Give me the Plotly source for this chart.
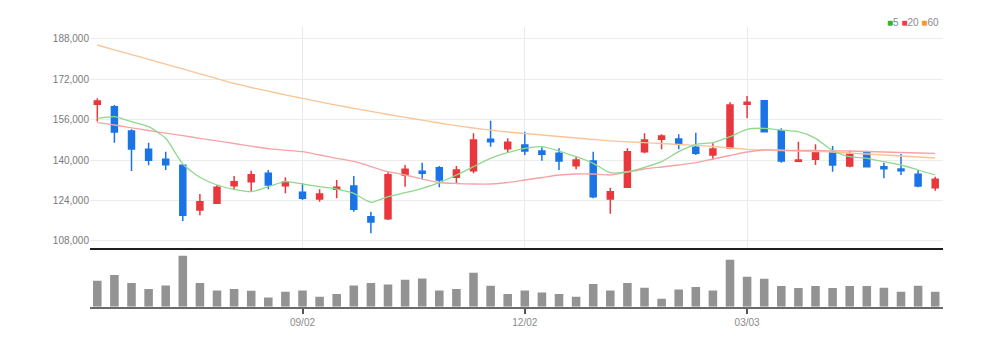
import plotly.graph_objects as go
from plotly.subplots import make_subplots

# Weekly sessions (Monday of each week)
dates = [
    "2024-06-10", "2024-06-17", "2024-06-24", "2024-07-01", "2024-07-08",
    "2024-07-15", "2024-07-22", "2024-07-29", "2024-08-05", "2024-08-12",
    "2024-08-19", "2024-08-26", "2024-09-02", "2024-09-09", "2024-09-16",
    "2024-09-23", "2024-09-30", "2024-10-07", "2024-10-14", "2024-10-21",
    "2024-10-28", "2024-11-04", "2024-11-11", "2024-11-18", "2024-11-25",
    "2024-12-02", "2024-12-09", "2024-12-16", "2024-12-23", "2024-12-30",
    "2025-01-06", "2025-01-13", "2025-01-20", "2025-01-27", "2025-02-03",
    "2025-02-10", "2025-02-17", "2025-02-24", "2025-03-03", "2025-03-10",
    "2025-03-17", "2025-03-24", "2025-03-31", "2025-04-07", "2025-04-14",
    "2025-04-21", "2025-04-28", "2025-05-05", "2025-05-12", "2025-05-19",
]

open_ = [
    162050, 161100, 151500, 144250, 140300, 137900, 120200, 122850, 129800, 131400,
    134750, 129800, 127200, 124550, 128400, 129700, 117550, 116750, 134050, 135550,
    136950, 133150, 135750, 148200, 144450, 145950, 143550, 142650, 137750, 139600,
    124550, 129200, 143300, 148200, 148300, 145050, 142000, 144650, 162050, 163500,
    151600, 139500, 140300, 143050, 137600, 143300, 137350, 136450, 134350, 129050,
]
high = [
    164500, 161800, 152150, 146850, 143300, 138150, 126550, 130100, 133650, 135750,
    136050, 133150, 130750, 128400, 132100, 133650, 119550, 135100, 138000, 138950,
    137600, 137600, 150550, 155550, 148600, 151200, 145050, 144650, 141300, 143300,
    129050, 144650, 150550, 150200, 150200, 150800, 146600, 162850, 165350, 163500,
    152550, 147250, 146200, 145550, 143700, 143700, 138950, 142400, 136050, 133400,
]
low = [
    155250, 146850, 135650, 137900, 136050, 115850, 118100, 122800, 128100, 127700,
    128400, 126800, 124150, 123500, 124850, 119550, 110950, 116250, 129450, 132350,
    129200, 130500, 134750, 145250, 142900, 142000, 139700, 136050, 136300, 124850,
    118750, 129100, 142650, 144250, 144250, 142000, 140000, 144250, 156500, 151100,
    138950, 139500, 138000, 135350, 137100, 137100, 132750, 134050, 129200, 127850,
]
close = [
    163350, 151100, 144350, 139900, 138150, 118100, 123500, 129200, 131400, 134200,
    130100, 131300, 124850, 126550, 129200, 120500, 115450, 134200, 136300, 134750,
    132100, 136050, 147900, 147250, 147000, 143550, 142250, 139600, 140000, 125450,
    127450, 143300, 147900, 149500, 146350, 142650, 144350, 161800, 162850, 151200,
    139600, 140000, 143300, 138000, 142250, 137350, 136550, 135750, 129700, 132350,
]

ma5 = [
    156500, 157150, 155170, 153200, 148590, 138400, 133150, 130100, 128400, 127450,
    129430, 131400, 130500, 129430, 128500, 126800, 123260, 125470, 127050, 128790,
    131020, 134060, 137350, 140670, 142890, 144630, 145270, 143560, 141310, 138690,
    134970, 135370, 137100, 139330, 143290, 146220, 146850, 149230, 152150, 152550,
    151880, 151200, 148590, 143680, 141310, 140670, 139330, 138020, 136040, 134060,
]
ma20 = [
    154770, 153860, 152710, 151680, 150650, 149620, 148590, 147560, 146530, 145500,
    144470, 143880, 143290, 141980, 140670, 139410, 137420, 135370, 134060, 132480,
    131090, 130690, 130500, 130500, 131090, 132080, 133070, 134060, 134460, 134460,
    134060, 135250, 136440, 137230, 138020, 138930, 140400, 141780, 143170, 143960,
    143880, 143760, 143760, 143640, 143560, 143370, 143170, 142970, 142770, 142650,
]
ma60 = [
    185540, 183640, 181740, 179840, 177940, 176040, 174140, 172230, 170330, 168710,
    167240, 165820, 164390, 163010, 161700, 160470, 159250, 158020, 156910, 155760,
    154650, 153620, 152670, 151800, 151090, 150490, 149900, 149310, 148710, 148120,
    147600, 147210, 146850, 146530, 146140, 145820, 145350, 144750, 144240, 143960,
    143760, 143560, 143370, 143170, 142770, 142380, 141980, 141580, 141190, 140790,
]

volume = [
    1040000, 1268000, 948000, 708000, 852000, 2040000, 948000, 652000, 708000, 640000,
    372000, 600000, 652000, 400000, 508000, 852000, 948000, 892000, 1080000, 1132000,
    652000, 708000, 1360000, 840000, 508000, 652000, 572000, 508000, 400000, 908000,
    652000, 948000, 760000, 320000, 692000, 788000, 652000, 1880000, 1200000, 1120000,
    828000, 748000, 828000, 748000, 828000, 828000, 760000, 600000, 840000, 600000,
]

tick_dates = ["2024-09-02", "2024-12-02", "2025-03-03"]
tick_text = ["09/02", "12/02", "03/03"]
price_ticks = [108000, 124000, 140000, 156000, 172000, 188000]

UP = "#e8383d"
DOWN = "#1a74e6"
FONT = "Liberation Sans, Arial, sans-serif"

W, H = 1001, 345


def yfrac(px):
    return 1 - px / H


fig = make_subplots(rows=2, cols=1, shared_xaxes=True)

fig.add_trace(go.Candlestick(
    x=dates, open=open_, high=high, low=low, close=close,
    increasing=dict(line=dict(color=UP, width=1.5), fillcolor=UP),
    decreasing=dict(line=dict(color=DOWN, width=1.5), fillcolor=DOWN),
    whiskerwidth=0, showlegend=False, hoverinfo="skip",
), row=1, col=1)

for series, color in [(ma60, "#f9c596"), (ma20, "#f6a3a6"), (ma5, "#8fd88c")]:
    fig.add_trace(go.Scatter(
        x=dates, y=series, mode="lines",
        line=dict(color=color, width=1.3, shape="spline", smoothing=0.6),
        showlegend=False, hoverinfo="skip",
    ), row=1, col=1)

fig.add_trace(go.Bar(
    x=dates, y=volume, marker=dict(color="#939393", line=dict(width=0)),
    width=0.5, showlegend=False, hoverinfo="skip",
), row=2, col=1)

x_left, x_right = 90, 943
first_x, step = 97.3, 17.1
xr = [(x_left - first_x) / step, (x_right - first_x) / step]

common_x = dict(
    type="category", range=xr, domain=[x_left / W, x_right / W],
    tickmode="array", tickvals=tick_dates, ticktext=tick_text,
    rangeslider=dict(visible=False), fixedrange=True,
)
fig.update_xaxes(
    **common_x, showgrid=True, gridcolor="#e9e9e9", gridwidth=1,
    showticklabels=False, ticks="", showline=True, linecolor="#1e1e1e",
    linewidth=2, zeroline=False, row=1, col=1,
)
fig.update_xaxes(
    **common_x, showgrid=False, showticklabels=True, ticks="outside",
    ticklen=5, tickwidth=1.5, tickcolor="#555555", showline=True,
    linecolor="#6a6a6a", linewidth=2,
    tickfont=dict(family=FONT, size=10, color="#8a8a8a"),
    row=2, col=1,
)

price_bottom_px, price_top_px = 248, 27
price_at = lambda px: 140000 + (160 - px) * 396
fig.update_yaxes(
    range=[price_at(price_bottom_px), price_at(price_top_px)],
    domain=[yfrac(price_bottom_px), yfrac(price_top_px)],
    tickmode="array", tickvals=price_ticks,
    tickformat=",d", showgrid=True, gridcolor="#ececec", gridwidth=1,
    zeroline=False, showline=False, ticks="",
    tickfont=dict(family=FONT, size=10, color="#7a7a7a"),
    fixedrange=True, row=1, col=1,
)

vol_base_px, vol_top_px = 306.7, 250
fig.update_yaxes(
    range=[0, max(volume) * (vol_base_px - vol_top_px) / 51.0],
    domain=[yfrac(vol_base_px), yfrac(vol_top_px)],
    showgrid=False, showticklabels=False, zeroline=False, showline=False,
    ticks="", fixedrange=True, row=2, col=1,
)

legend_text = (
    '<span style="color:#2bb52b">■</span>5 '
    '<span style="color:#f03a4a">■</span>20 '
    '<span style="color:#f5962e">■</span>60'
)
fig.add_annotation(
    text=legend_text, xref="paper", yref="paper", x=941 / W, y=yfrac(22),
    xanchor="right", yanchor="middle", showarrow=False,
    font=dict(family=FONT, size=10, color="#8a8a8a"),
)

fig.update_layout(
    width=W, height=H, margin=dict(l=0, r=0, t=0, b=0),
    paper_bgcolor="white", plot_bgcolor="white",
    bargap=0.5, boxgap=0.5, hovermode=False,
)

fig.write_html("out.html", config={"displayModeBar": False})
